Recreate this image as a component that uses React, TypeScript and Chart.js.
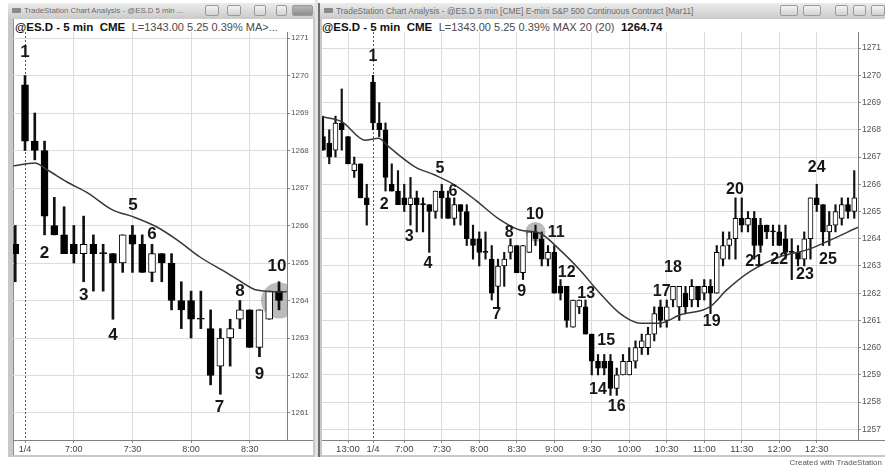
import React, { useEffect, useRef } from 'react';
import { Chart, registerables } from 'chart.js';

Chart.register(...registerables);

const FONT = '"Liberation Sans", Arial, Helvetica, sans-serif';

// ---------- DATA ----------
// bar index 0..7 = prior session (12:40-13:15), 8..85 = session of 1/4 (6:35-13:00)
const barTimes: string[] = [
  '12:40', '12:45', '12:50', '12:55', '13:00', '13:05', '13:10', '13:15',
  '6:35', '6:40', '6:45', '6:50', '6:55',
  '7:00', '7:05', '7:10', '7:15', '7:20', '7:25', '7:30', '7:35', '7:40', '7:45', '7:50', '7:55',
  '8:00', '8:05', '8:10', '8:15', '8:20', '8:25', '8:30', '8:35', '8:40', '8:45', '8:50', '8:55',
  '9:00', '9:05', '9:10', '9:15', '9:20', '9:25', '9:30', '9:35', '9:40', '9:45', '9:50', '9:55',
  '10:00', '10:05', '10:10', '10:15', '10:20', '10:25', '10:30', '10:35', '10:40', '10:45', '10:50', '10:55',
  '11:00', '11:05', '11:10', '11:15', '11:20', '11:25', '11:30', '11:35', '11:40', '11:45', '11:50', '11:55',
  '12:00', '12:05', '12:10', '12:15', '12:20', '12:25', '12:30', '12:35', '12:40', '12:45', '12:50', '12:55',
  '13:00',
];
const sessionDate = '1/4';
const sessionOpenTime = '6:35';

const opens: number[] = [
  1267.75, 1267.5, 1267.25, 1268.25, 1267.75, 1266.5, 1266.75, 1265.5,
  1269.75, 1268.25, 1268.0, 1266.0, 1265.75, 1265.5, 1265.25, 1265.5, 1265.25, 1265.25,
  1265.0, 1265.75, 1265.5, 1264.75, 1265.25, 1265.0, 1264.0, 1264.0, 1263.5, 1263.25,
  1262.25, 1263.0, 1263.5, 1263.75, 1262.75, 1263.5, 1264.25,
  1264.0, 1263.25, 1263.5, 1262.25, 1262.25, 1260.75, 1261.5, 1261.5, 1260.5, 1259.5,
  1259.5, 1259.5, 1258.5, 1259.0, 1259.0, 1259.5, 1260.0, 1260.0, 1260.5, 1261.5,
  1261.0, 1261.75, 1261.5, 1262.0, 1261.75, 1262.25, 1262.0, 1262.25, 1262.0, 1263.25,
  1263.75, 1264.0, 1264.75, 1264.5, 1264.75, 1264.5, 1264.5, 1264.25, 1264.25, 1264.0,
  1263.5, 1263.5, 1263.25, 1264.0, 1265.5, 1265.25, 1264.25, 1264.5, 1264.75, 1265.25,
  1265.0,
];
const highs: number[] = [
  1268.5, 1268.0, 1268.5, 1269.5, 1267.75, 1267.0, 1266.75, 1266.0,
  1270.0, 1269.0, 1268.25, 1266.75, 1266.5, 1266.0, 1266.25, 1265.75, 1265.5, 1265.25,
  1265.75, 1266.0, 1265.75, 1265.5, 1265.25, 1265.25, 1264.5, 1264.25, 1264.25, 1263.75,
  1263.25, 1263.5, 1264.0, 1263.75, 1263.75, 1264.25, 1264.5,
  1264.25, 1263.75, 1263.75, 1262.5, 1262.25, 1261.75, 1261.75, 1261.75, 1260.5, 1259.75,
  1259.75, 1259.75, 1259.25, 1259.75, 1260.0, 1260.25, 1260.5, 1260.75, 1261.5, 1261.75,
  1261.75, 1262.25, 1262.25, 1262.25, 1262.5, 1262.25, 1262.5, 1262.5, 1263.75, 1264.25,
  1264.25, 1265.5, 1265.5, 1265.0, 1265.0, 1264.75, 1264.5, 1264.5, 1264.5, 1264.5,
  1264.0, 1263.75, 1264.25, 1265.5, 1266.0, 1265.25, 1265.0, 1265.25, 1265.5, 1265.5,
  1266.5,
];
const lows: number[] = [
  1267.25, 1266.75, 1267.0, 1267.25, 1266.75, 1266.25, 1265.5, 1264.5,
  1268.0, 1267.75, 1265.75, 1265.75, 1265.25, 1265.0, 1264.5, 1264.25, 1264.25, 1263.5,
  1264.75, 1264.75, 1264.75, 1264.5, 1264.5, 1263.75, 1263.25, 1263.0, 1263.25, 1261.75,
  1261.5, 1262.25, 1263.25, 1262.75, 1262.5, 1263.5, 1263.75,
  1263.0, 1263.0, 1262.0, 1261.75, 1260.75, 1260.75, 1261.25, 1260.5, 1259.0, 1259.0,
  1259.0, 1258.25, 1258.25, 1259.0, 1259.0, 1259.25, 1259.75, 1259.75, 1260.25, 1260.75,
  1260.75, 1261.5, 1261.0, 1261.25, 1261.5, 1261.5, 1261.75, 1261.25, 1262.0, 1263.0,
  1263.25, 1263.25, 1264.25, 1264.25, 1263.25, 1263.5, 1264.0, 1263.75, 1263.75, 1263.25,
  1262.5, 1263.0, 1263.0, 1263.25, 1265.0, 1263.75, 1263.75, 1264.25, 1264.5, 1264.75,
  1264.75,
];
const closes: number[] = [
  1267.25, 1267.0, 1268.25, 1268.0, 1266.75, 1266.75, 1265.5, 1265.25,
  1268.25, 1268.0, 1266.25, 1265.75, 1265.25, 1265.25, 1265.5, 1265.25, 1265.25, 1265.0,
  1265.75, 1265.5, 1264.75, 1265.25, 1265.0, 1264.0, 1263.75, 1263.5, 1263.5, 1262.0,
  1263.0, 1263.25, 1263.75, 1262.75, 1263.75, 1264.25, 1264.0,
  1263.25, 1263.5, 1262.0, 1262.0, 1261.0, 1261.75, 1261.75, 1260.5, 1259.5, 1259.25,
  1259.25, 1258.5, 1259.0, 1259.5, 1259.5, 1260.0, 1260.25, 1260.5, 1261.25, 1261.0,
  1261.5, 1262.25, 1262.25, 1261.5, 1262.25, 1261.75, 1262.25, 1262.0, 1263.5, 1263.75,
  1264.0, 1264.75, 1264.5, 1264.75, 1263.75, 1263.75, 1264.25, 1264.25, 1263.75, 1263.5,
  1263.5, 1263.25, 1264.0, 1265.5, 1265.25, 1264.25, 1264.5, 1265.0, 1265.25, 1265.0,
  1265.5,
];

// moving average line, read off each panel (bar position, price)
const maLeftBars: number[] = [6.8, 9.0, 10.3, 12.3, 14.4, 17.0, 19.1, 21.5, 23.6, 25.9, 28.7, 30.3, 31.7, 34.4, 34.8];
const maLeftVals: number[] = [1267.59, 1267.67, 1267.48, 1267.16, 1266.87, 1266.41, 1266.23, 1265.96, 1265.61, 1265.16, 1264.73, 1264.47, 1264.28, 1264.23, 1264.24];
const maRightBars: number[] = [-0.2, 3, 6.7, 8.9, 10.5, 14.7, 17.9, 21.1, 24.5, 28, 31.5, 34.7, 37.9, 41.1, 44.3, 47.5, 50.7, 53.9, 57.1, 61.9, 64.6, 68.3, 73.1, 77.4, 80.6, 85.6];
const maRightVals: number[] = [1268.48, 1268.3, 1267.62, 1267.69, 1267.38, 1266.64, 1266.34, 1265.97, 1265.4, 1264.75, 1264.32, 1264.2, 1263.59, 1262.85, 1262.0, 1261.26, 1260.9, 1260.9, 1261.2, 1261.5, 1262.12, 1262.79, 1263.34, 1263.59, 1263.89, 1264.42];

// axis tick labels
const leftXTickLabels: string[] = ['1/4', '7:00', '7:30', '8:00', '8:30'];
const rightXTickLabels: string[] = ['13:00', '1/4', '7:00', '7:30', '8:00', '8:30', '9:00', '9:30', '10:00', '10:30', '11:00', '11:30', '12:00', '12:30'];
const leftYTicks: number[] = [1261, 1262, 1263, 1264, 1265, 1266, 1267, 1268, 1269, 1270, 1271];
const rightYTicks: number[] = [1257, 1258, 1259, 1260, 1261, 1262, 1263, 1264, 1265, 1266, 1267, 1268, 1269, 1270, 1271];

// swing count annotations (bar position, price)
const leftLabelTexts: string[] = ['1', '2', '3', '4', '5', '6', '7', '8', '9', '10'];
const leftLabelBars: number[] = [8, 10, 14, 17, 19.05, 21, 27.9, 30, 32, 33.8];
const leftLabelPrices: number[] = [1270.63, 1265.27, 1264.15, 1263.08, 1266.55, 1265.77, 1261.16, 1264.25, 1262.04, 1264.92];
const rightLabelTexts: string[] = ['1', '2', '3', '4', '5', '6', '7', '8', '9', '10', '11', '12', '13', '14', '15', '16', '17', '18', '19', '20', '21', '22', '23', '24', '25'];
const rightLabelBars: number[] = [8, 9.8, 13.8, 16.8, 18.7, 20.8, 27.8, 29.8, 31.8, 33.9, 37.3, 39, 42.1, 44, 45.3, 47, 54.2, 56, 62.2, 65.9, 69, 73, 77.1, 79, 80.8];
const rightLabelPrices: number[] = [1270.67, 1265.24, 1264.06, 1263.07, 1266.56, 1265.72, 1261.2, 1264.21, 1262.05, 1264.87, 1264.21, 1262.74, 1261.97, 1258.45, 1260.25, 1257.83, 1262.05, 1262.93, 1260.94, 1265.79, 1263.15, 1263.22, 1262.67, 1266.6, 1263.22];

// highlighted bar (grey disc)
const highlightBar = 34;
const highlightPriceLeft = 1264.0;
const highlightPriceRight = 1264.25;

// ---------- CHART ----------
type PanelCfg = {
  first: number; last: number;
  xMin: number; xMax: number; yMin: number; yMax: number;
  bodyWidth: number; wickWidth: number;
  yTicks: number[]; xTickLabels: string[];
  maBars: number[]; maVals: number[];
  labelTexts: string[]; labelBars: number[]; labelPrices: number[];
  labelFont: number;
  ringPrice: number; ringRadius: number;
  yAxisWidth: number; xAxisHeight: number;
  yFont: number; xFont: number;
};

function tickBarFor(label: string): number {
  return label === sessionDate ? barTimes.indexOf(sessionOpenTime) : barTimes.indexOf(label);
}

function buildConfig(cfg: PanelCfg): any {
  const idx: number[] = [];
  for (let i = cfg.first; i <= cfg.last; i++) idx.push(i);
  const bodyData = idx.map((i) => ({ x: i, y: [opens[i], closes[i]] }));
  const bodyFill = idx.map((i) => (closes[i] > opens[i] ? '#ffffff' : '#000000'));
  const wickData = idx.map((i) => ({ x: i, y: [lows[i], highs[i]] }));
  const maData = cfg.maBars.map((b, k) => ({ x: b, y: cfg.maVals[k] }));
  const tickBars = cfg.xTickLabels.map(tickBarFor);
  const sessionBar = barTimes.indexOf(sessionOpenTime);

  const overlay = {
    id: 'overlay',
    beforeDatasetsDraw(chart: any) {
      const { ctx, chartArea: a, scales } = chart;
      const x = scales.x, y = scales.y;
      ctx.save();
      ctx.beginPath();
      ctx.rect(a.left, a.top, a.right - a.left, a.bottom - a.top);
      ctx.clip();
      ctx.fillStyle = 'rgba(145,145,145,0.62)';
      ctx.beginPath();
      ctx.arc(x.getPixelForValue(highlightBar), y.getPixelForValue(cfg.ringPrice), cfg.ringRadius, 0, Math.PI * 2);
      ctx.fill();
      const sx = Math.round(x.getPixelForValue(sessionBar)) + 0.5;
      ctx.strokeStyle = '#555';
      ctx.lineWidth = 1;
      ctx.setLineDash([2, 2]);
      ctx.beginPath();
      ctx.moveTo(sx, a.top);
      ctx.lineTo(sx, a.bottom);
      ctx.stroke();
      ctx.restore();
    },
    afterDatasetsDraw(chart: any) {
      const { ctx, scales } = chart;
      const x = scales.x, y = scales.y;
      ctx.save();
      ctx.font = `bold ${cfg.labelFont}px ${FONT}`;
      ctx.fillStyle = '#161616';
      ctx.textAlign = 'center';
      ctx.textBaseline = 'middle';
      cfg.labelTexts.forEach((t, k) => {
        ctx.fillText(t, x.getPixelForValue(cfg.labelBars[k]), y.getPixelForValue(cfg.labelPrices[k]));
      });
      ctx.restore();
    },
  };

  return {
    type: 'bar',
    data: {
      datasets: [
        {
          type: 'line',
          data: maData,
          borderColor: '#383838',
          borderWidth: 1.5,
          pointRadius: 0,
          cubicInterpolationMode: 'monotone',
          fill: false,
          order: 0,
        },
        {
          type: 'bar',
          data: bodyData,
          backgroundColor: bodyFill,
          borderColor: '#000000',
          borderWidth: 1,
          borderSkipped: false,
          barThickness: cfg.bodyWidth,
          minBarLength: 1,
          grouped: false,
          order: 1,
        },
        {
          type: 'bar',
          data: wickData,
          backgroundColor: '#111111',
          borderWidth: 0,
          barThickness: cfg.wickWidth,
          minBarLength: 1,
          grouped: false,
          order: 2,
        },
      ],
    },
    options: {
      animation: false,
      responsive: false,
      events: [],
      layout: { padding: 0 },
      plugins: { legend: { display: false }, tooltip: { enabled: false } },
      scales: {
        x: {
          type: 'linear',
          min: cfg.xMin,
          max: cfg.xMax,
          offset: false,
          afterBuildTicks: (s: any) => {
            s.ticks = tickBars.map((v) => ({ value: v }));
          },
          afterFit: (s: any) => {
            s.height = cfg.xAxisHeight;
            s.paddingLeft = 0;
            s.paddingRight = 0;
          },
          ticks: {
            autoSkip: false,
            maxRotation: 0,
            padding: 1,
            color: '#444',
            font: { size: cfg.xFont, family: FONT },
            callback: (v: number) => {
              const k = tickBars.indexOf(v);
              return k >= 0 ? cfg.xTickLabels[k] : '';
            },
          },
          grid: {
            color: (c: any) => (c.tick && c.tick.value === sessionBar ? 'rgba(0,0,0,0)' : '#dcdcdc'),
            tickColor: '#888',
            tickLength: 3,
            offset: false,
          },
          border: { color: '#808080', width: 1 },
        },
        y: {
          type: 'linear',
          position: 'right',
          min: cfg.yMin,
          max: cfg.yMax,
          afterBuildTicks: (s: any) => {
            s.ticks = cfg.yTicks.map((v) => ({ value: v }));
          },
          afterFit: (s: any) => {
            s.width = cfg.yAxisWidth;
            s.paddingTop = 0;
            s.paddingBottom = 0;
          },
          ticks: {
            padding: 1,
            color: '#555',
            font: { size: cfg.yFont, family: FONT },
            callback: (v: number) => String(v),
          },
          grid: { color: '#dcdcdc', tickColor: '#888', tickLength: 3 },
          border: { color: '#808080', width: 1 },
        },
      },
    },
    plugins: [overlay],
  };
}

function Panel({ cfg, width, height }: { cfg: PanelCfg; width: number; height: number }) {
  const ref = useRef<HTMLCanvasElement | null>(null);
  useEffect(() => {
    if (!ref.current) return;
    const chart = new Chart(ref.current, buildConfig(cfg));
    return () => chart.destroy();
  }, []);
  return <canvas ref={ref} width={width} height={height} style={{ width, height, display: 'block' }} />;
}

const leftCfg: PanelCfg = {
  first: 7, last: 34,
  xMin: 6.77, xMax: 34.82, yMin: 1260.28, yMax: 1271.16,
  bodyWidth: 7, wickWidth: 2,
  yTicks: leftYTicks, xTickLabels: leftXTickLabels,
  maBars: maLeftBars, maVals: maLeftVals,
  labelTexts: leftLabelTexts, labelBars: leftLabelBars, labelPrices: leftLabelPrices,
  labelFont: 17,
  ringPrice: highlightPriceLeft, ringRadius: 18,
  yAxisWidth: 26, xAxisHeight: 18,
  yFont: 8, xFont: 9,
};

const rightCfg: PanelCfg = {
  first: 0, last: 85,
  xMin: -0.16, xMax: 85.6, yMin: 1256.61, yMax: 1271.59,
  bodyWidth: 5, wickWidth: 1.5,
  yTicks: rightYTicks, xTickLabels: rightXTickLabels,
  maBars: maRightBars, maVals: maRightVals,
  labelTexts: rightLabelTexts, labelBars: rightLabelBars, labelPrices: rightLabelPrices,
  labelFont: 16,
  ringPrice: highlightPriceRight, ringRadius: 10,
  yAxisWidth: 27, xAxisHeight: 18,
  yFont: 8.5, xFont: 9.5,
};

// ---------- CHROME ----------
const abs = (l: number, t: number, w: number, h: number, extra: React.CSSProperties = {}): React.CSSProperties => ({
  position: 'absolute', left: l, top: t, width: w, height: h, ...extra,
});

function Btn({ l, w, dark }: { l: number; w: number; dark?: boolean }) {
  return (
    <div style={abs(l, 5, w, 11, {
      background: dark ? 'linear-gradient(#b8b8b8,#8e8e8e)' : 'linear-gradient(#f4f4f4,#d2d2d2)',
      border: '1px solid #9a9a9a', borderRadius: 2, boxSizing: 'border-box',
    })} />
  );
}

function TitleBar({ l, w, text, size }: { l: number; w: number; text: string; size: number }) {
  return (
    <>
      <div style={abs(l, 3, w, 16, { background: 'linear-gradient(#ececec,#cacaca)' })} />
      <div style={abs(l + 4, 8, 9, 5, { background: '#8a8a8a', borderRadius: 1 })} />
      <div style={abs(l + 16, 5, w - 120, 12, {
        fontSize: size, lineHeight: '12px', color: '#6a6a6a', whiteSpace: 'nowrap', overflow: 'hidden', fontFamily: FONT,
      })}>{text}</div>
    </>
  );
}

export default function App() {
  return (
    <div style={{ position: 'fixed', left: 0, top: 0, width: 885, height: 469, background: '#ffffff', overflow: 'hidden', fontFamily: FONT }}>
      {/* left window */}
      <div style={abs(8, 3, 307, 454, { background: '#c8c8c8' })} />
      <TitleBar l={8} w={307} size={7.8} text="TradeStation Chart Analysis - @ES.D 5 min ..." />
      <Btn l={205} w={14} />
      <Btn l={227} w={14} />
      <Btn l={254} w={12} />
      <Btn l={276} w={11} />
      <Btn l={292} w={21} dark />
      <div style={abs(13, 19, 300, 436, { background: '#ffffff', borderLeft: '1px solid #8c8c8c', boxSizing: 'border-box' })} />
      <div style={abs(15, 21, 280, 13, { fontSize: 11.5, lineHeight: '13px', whiteSpace: 'nowrap', color: '#111' })}>
        <b>@ES.D - 5 min&nbsp;&nbsp;CME</b>&nbsp;&nbsp;<span style={{ color: '#4a4a4a', fontSize: 11 }}>L=1343.00 5.25 0.39% MA&gt;...</span>
      </div>
      <div style={abs(13, 32, 300, 426)}>
        <Panel cfg={leftCfg} width={300} height={426} />
      </div>
      <div style={abs(287, 440, 26, 1, { background: '#808080' })} />

      {/* divider */}
      <div style={abs(315, 0, 3, 457, { background: '#e2e2e2' })} />
      <div style={abs(318, 3, 2, 454, { background: '#6e6e6e' })} />

      {/* right window */}
      <div style={abs(320, 3, 565, 454, { background: '#c8c8c8' })} />
      <TitleBar l={320} w={565} size={8.4} text="TradeStation Chart Analysis - @ES.D 5 min [CME] E-mini S&P 500 Continuous Contract [Mar11]" />
      <Btn l={780} w={18} />
      <Btn l={803} w={18} />
      <Btn l={835} w={13} />
      <Btn l={853} w={13} />
      <Btn l={871} w={14} />
      <div style={abs(322, 19, 563, 436, { background: '#ffffff' })} />
      <div style={abs(322, 21, 420, 13, { fontSize: 11.5, lineHeight: '13px', whiteSpace: 'nowrap', color: '#111' })}>
        <b>@ES.D - 5 min&nbsp;&nbsp;CME</b>&nbsp;&nbsp;<span style={{ color: '#4a4a4a', fontSize: 11 }}>L=1343.00 5.25 0.39% MAX 20 (20)</span>&nbsp;&nbsp;<b>1264.74</b>
      </div>
      <div style={abs(322, 32, 563, 426)}>
        <Panel cfg={rightCfg} width={563} height={426} />
      </div>
      <div style={abs(858, 440, 27, 1, { background: '#808080' })} />

      <div style={abs(700, 457, 182, 11, { fontSize: 8, lineHeight: '11px', color: '#555', textAlign: 'right', whiteSpace: 'nowrap' })}>
        Created with TradeStation
      </div>
    </div>
  );
}
